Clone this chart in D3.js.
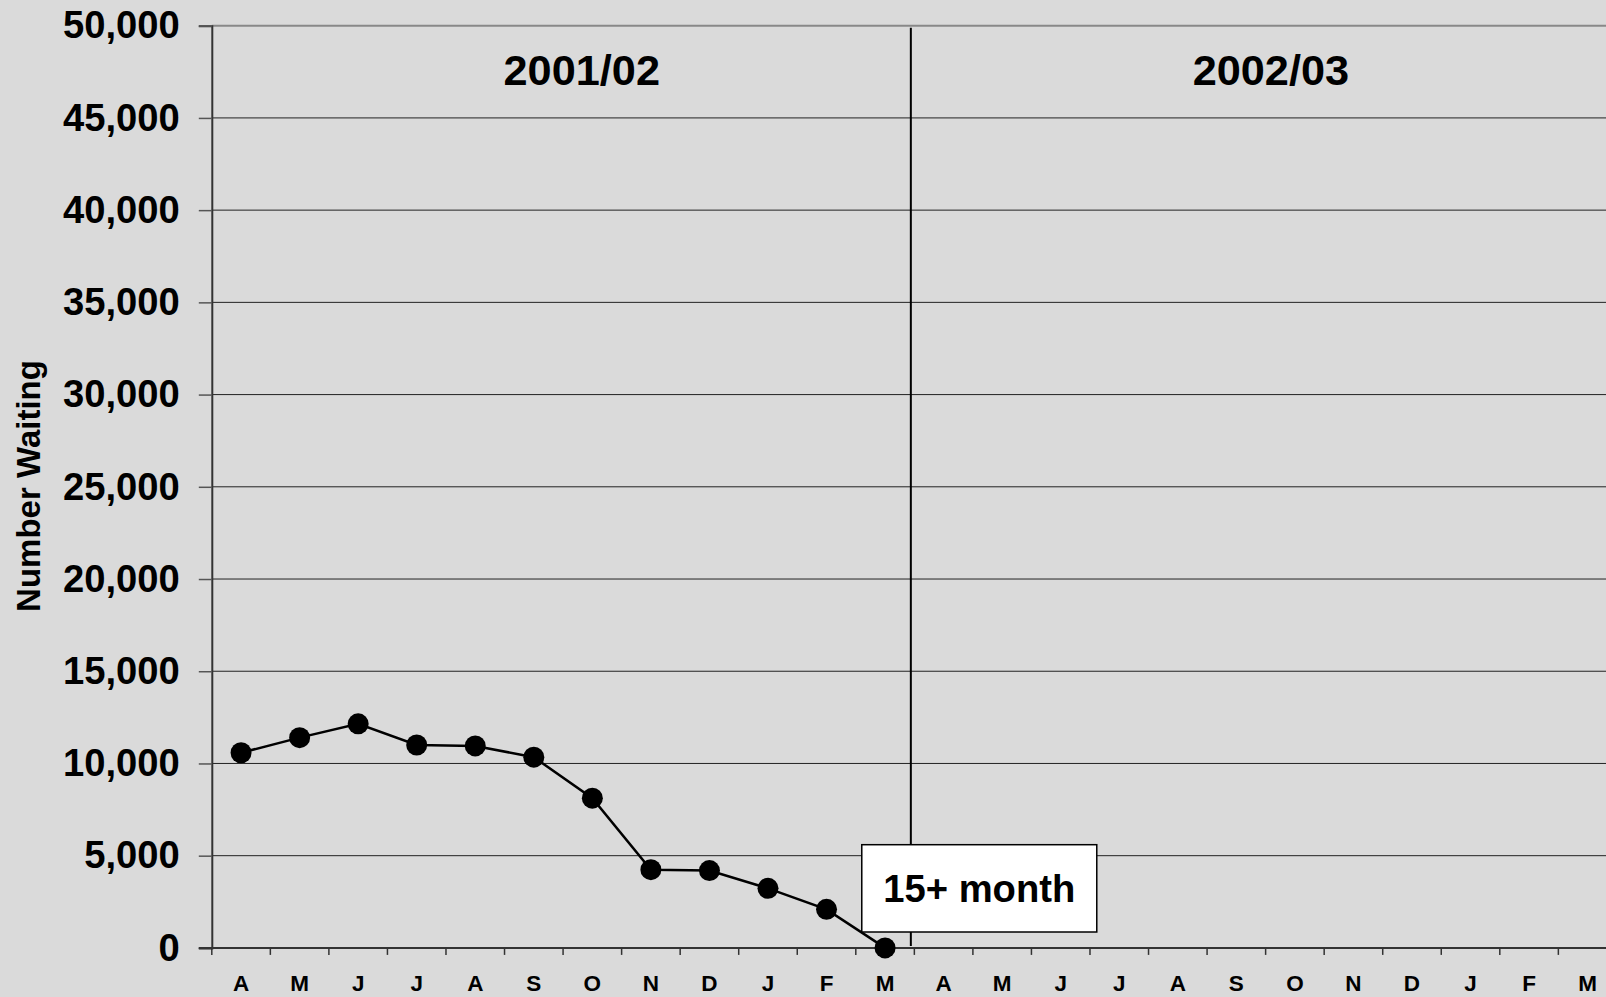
<!DOCTYPE html>
<html>
<head>
<meta charset="utf-8">
<script src="https://cdn.jsdelivr.net/npm/d3@7"></script>
<style>
  html, body { margin: 0; padding: 0; background: #dadada; }
  svg { display: block; font-family: "Liberation Sans", Arial, sans-serif; }
</style>
</head>
<body>
<svg id="chart" width="1606" height="997"></svg>
<script>
// ---- Data ----
const monthLabels = ["A","M","J","J","A","S","O","N","D","J","F","M",
                     "A","M","J","J","A","S","O","N","D","J","F","M"];
const periods = ["2001/02", "2002/03"];
const waitingValues = [10580, 11400, 12150, 11000, 10950, 10340, 8120, 4240, 4190, 3230, 2090, 0];
const yTicks = [0, 5000, 10000, 15000, 20000, 25000, 30000, 35000, 40000, 45000, 50000];
const yTitle = "Number Waiting";
const boxLabel = "15+ month";

// ---- Layout ----
const svg = d3.select("#chart");
const plotLeft = 211.8, plotRight = 1616.9, plotTop = 25.7, plotBottom = 947.9;

const x = d3.scaleBand().domain(d3.range(monthLabels.length)).range([plotLeft, plotRight]).padding(0);
const y = d3.scaleLinear().domain([0, 50000]).range([plotBottom, plotTop]);
const fmt = d3.format(",");

// gridlines
svg.append("g").selectAll("line").data(yTicks.filter(d => d > 0)).join("line")
  .attr("x1", plotLeft).attr("x2", plotRight)
  .attr("y1", d => y(d)).attr("y2", d => y(d))
  .attr("stroke", d => d === 50000 ? "#888" : "#222")
  .attr("stroke-width", d => d === 50000 ? 2 : 1);

// y axis
const yAxis = d3.axisLeft(y).tickValues(yTicks).tickFormat(fmt).tickSize(13).tickPadding(19);
const gy = svg.append("g").attr("transform", `translate(${plotLeft},0)`).call(yAxis);
gy.select(".domain").attr("stroke", "#333").attr("stroke-width", 2);
gy.selectAll(".tick line").attr("stroke", "#555").attr("stroke-width", 1.5);
gy.selectAll(".tick text")
  .attr("font-size", 38.2).attr("font-weight", "bold").attr("fill", "#000")
  .attr("font-family", "Liberation Sans, Arial, sans-serif");

// x axis (ticks at band boundaries)
const boundaries = d3.range(monthLabels.length + 1).map(i => plotLeft + i * x.step());
svg.append("line").attr("x1", plotLeft - 13).attr("x2", plotRight)
  .attr("y1", plotBottom).attr("y2", plotBottom).attr("stroke", "#333").attr("stroke-width", 2);
svg.append("g").selectAll("line").data(boundaries).join("line")
  .attr("x1", d => d).attr("x2", d => d)
  .attr("y1", plotBottom).attr("y2", plotBottom + 7)
  .attr("stroke", "#333").attr("stroke-width", 1.5);
svg.append("g").selectAll("text").data(monthLabels).join("text")
  .attr("x", (d, i) => x(i) + x.bandwidth() / 2)
  .attr("y", 991)
  .attr("text-anchor", "middle")
  .attr("font-size", 22.5).attr("font-weight", "bold").attr("fill", "#000")
  .text(d => d);

// year divider
const divX = x(11) + x.bandwidth() * 0.94;
svg.append("line").attr("x1", divX).attr("x2", divX)
  .attr("y1", y(50000) + 2).attr("y2", plotBottom - 2)
  .attr("stroke", "#000").attr("stroke-width", 2);

// period titles
const titleFrac = [0.5266, 0.5075];
periods.forEach((p, k) => {
  const x0 = x(k * 12), x1 = x(k * 12 + 11) + x.bandwidth();
  svg.append("text")
    .attr("x", x0 + (x1 - x0) * titleFrac[k])
    .attr("y", 85)
    .attr("text-anchor", "middle")
    .attr("font-size", 43.3).attr("font-weight", "bold").attr("fill", "#000")
    .text(p);
});

// y title
svg.append("text")
  .attr("transform", `translate(39.5,486) rotate(-90)`)
  .attr("text-anchor", "middle")
  .attr("font-size", 33).attr("font-weight", "bold").attr("fill", "#000")
  .text(yTitle);

// line + markers
const cx = i => x(i) + x.bandwidth() / 2;
svg.append("path").datum(waitingValues)
  .attr("fill", "none").attr("stroke", "#000").attr("stroke-width", 2.5)
  .attr("d", d3.line().x((d, i) => cx(i)).y(d => y(d)));
svg.append("g").selectAll("circle").data(waitingValues).join("circle")
  .attr("cx", (d, i) => cx(i)).attr("cy", d => y(d)).attr("r", 10.5)
  .attr("fill", "#000");

// label box for last point
const li = waitingValues.length - 1;
const bx = cx(li) - 23.3, by = y(waitingValues[li]) - 103.2;
svg.append("rect").attr("x", bx).attr("y", by).attr("width", 235).attr("height", 87.3)
  .attr("fill", "#fff").attr("stroke", "#000").attr("stroke-width", 1.5);
svg.append("text").attr("x", bx + 117.5).attr("y", by + 57)
  .attr("text-anchor", "middle")
  .attr("font-size", 38.2).attr("font-weight", "bold").attr("fill", "#000")
  .text(boxLabel);
</script>
</body>
</html>
